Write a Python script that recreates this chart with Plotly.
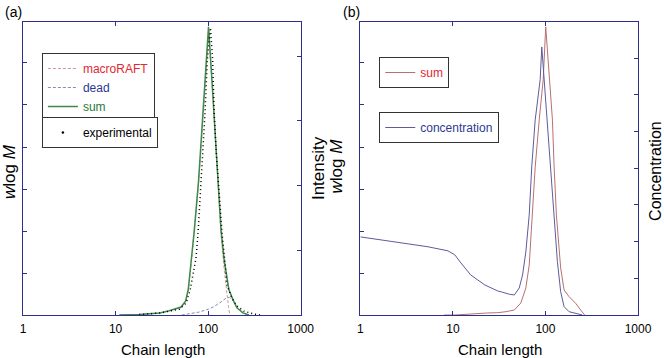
import plotly.graph_objects as go

# ---------------- Panel (a) data ----------------
a_sum_x = [11, 18, 30, 38, 51, 57, 61, 66, 71, 79, 86, 93, 101, 110, 119, 128, 138, 149, 168, 186, 205, 238, 276]
a_sum_y = [0.0, 0.01, 0.05, 0.1, 0.19, 0.33, 0.6, 1.31, 2.02, 3.21, 4.4, 5.6, 6.86, 5.6, 4.4, 3.21, 2.02, 1.31, 0.6, 0.36, 0.17, 0.05, 0.0]

a_raft_x = [11, 18, 30, 38, 51, 57, 61, 66, 71, 79, 86, 93, 101, 110, 119, 128, 138, 149, 160, 166, 172]
a_raft_y = [0.0, 0.01, 0.05, 0.1, 0.17, 0.3, 0.56, 1.26, 1.96, 3.14, 4.32, 5.5, 6.74, 5.55, 4.33, 3.12, 1.9, 1.1, 0.45, 0.2, 0.0]

a_dead_x = [52, 65, 80, 101, 116, 138, 156, 170, 186, 205, 238, 276]
a_dead_y = [0.0, 0.03, 0.07, 0.14, 0.2, 0.31, 0.4, 0.42, 0.36, 0.17, 0.05, 0.0]

a_exp_x = [18, 30, 49, 58, 64, 69, 74, 78, 83, 88, 93, 98, 106, 112, 116, 122, 130, 142, 152, 160, 181, 205, 244, 313, 372]
a_exp_y = [0.008, 0.03, 0.09, 0.185, 0.386, 0.618, 0.88, 1.28, 1.93, 2.55, 3.17, 3.94, 4.44, 3.94, 3.17, 2.55, 1.93, 1.24, 0.82, 0.46, 0.26, 0.14, 0.06, 0.015, 0.0]

# ---------------- Panel (b) data ----------------
b_sum_x = [8, 10.5, 23.8, 30.5, 37.4, 46.1, 54.2, 61.4, 66.8, 72.5, 77.5, 85.6, 94.5, 100.7, 109.6, 119, 124, 131.3, 146, 159, 180, 212, 240, 265]
b_sum_y = [0.0, 0.0, 0.048, 0.055, 0.079, 0.119, 0.286, 0.643, 1.19, 2.38, 3.52, 4.64, 5.6, 6.86, 5.6, 4.64, 3.55, 2.38, 1.12, 0.595, 0.436, 0.279, 0.119, 0.0]

b_conc_x = [1, 2.38, 5.39, 8.84, 10.5, 12.2, 15.6, 22.1, 30.5, 34.5, 40.7, 46.1, 52.1, 56.6, 61.4, 66.8, 71.2, 77.5, 87.7, 91.3, 96.8, 105.1, 114.6, 124, 134.6, 146, 159, 180, 221, 250]
b_conc_y = [2.13, 2.0, 1.86, 1.75, 1.64, 1.42, 1.09, 0.82, 0.655, 0.62, 0.565, 0.546, 0.737, 1.09, 1.72, 2.73, 4.07, 5.32, 6.42, 7.31, 6.42, 5.32, 4.07, 2.73, 1.455, 0.636, 0.227, 0.09, 0.027, 0.0]

x_tick_vals = [1, 10, 100, 1000]
x_tick_text = ["1", "10", "100", "1000"]

AX = "#2e2f8a"
FONT = "Liberation Sans, Arial, Helvetica, sans-serif"
RED_T = "#e3262f"
BLUE_T = "#2b3a90"
GREEN_T = "#1f7a3a"

fig = go.Figure()

# Panel (a)
fig.add_trace(go.Scatter(x=a_raft_x, y=a_raft_y, mode="lines", xaxis="x", yaxis="y",
                         line=dict(color="#c99a9a", width=1, dash="3px,2px"),
                         name=f"<span style='color:{RED_T}'>macroRAFT</span>", legend="legend"))
fig.add_trace(go.Scatter(x=a_dead_x, y=a_dead_y, mode="lines", xaxis="x", yaxis="y",
                         line=dict(color="#8a8ab8", width=1, dash="3px,2px"),
                         name=f"<span style='color:{BLUE_T}'>dead</span>", legend="legend"))
fig.add_trace(go.Scatter(x=a_sum_x, y=a_sum_y, mode="lines", xaxis="x", yaxis="y",
                         line=dict(color="#3f8a4a", width=1.5),
                         name=f"<span style='color:{GREEN_T}'>sum</span>", legend="legend"))
fig.add_trace(go.Scatter(x=a_exp_x, y=a_exp_y, mode="lines", xaxis="x", yaxis="y2",
                         line=dict(color="black", width=1.5, dash="1px,3px"),
                         showlegend=False, name="experimental"))
fig.add_trace(go.Scatter(x=[None], y=[None], mode="markers", xaxis="x", yaxis="y2",
                         marker=dict(color="black", size=2.5),
                         name="experimental", legend="legend2"))

# Panel (b)
fig.add_trace(go.Scatter(x=b_sum_x, y=b_sum_y, mode="lines", xaxis="x2", yaxis="y3",
                         line=dict(color="#b87070", width=1),
                         name=f"<span style='color:{RED_T}'>sum</span>", legend="legend3"))
fig.add_trace(go.Scatter(x=b_conc_x, y=b_conc_y, mode="lines", xaxis="x2", yaxis="y4",
                         line=dict(color="#5c5c9c", width=1),
                         name=f"<span style='color:{BLUE_T}'>concentration</span>", legend="legend4"))

xcommon = dict(type="log", range=[0, 3], tickvals=x_tick_vals, ticktext=x_tick_text,
               ticks="inside", ticklen=4, tickcolor=AX, showline=True, linecolor=AX, linewidth=1,
               mirror="ticks", showgrid=False, zeroline=False, ticklabelstandoff=3,
               tickfont=dict(size=12, color="black", family=FONT))
yleft = dict(ticks="inside", ticklen=4, tickcolor=AX, showline=True, linecolor=AX, linewidth=1,
             mirror=True, showgrid=False, zeroline=False, showticklabels=False,
             tick0=0, dtick=1, range=[0, 6.976])
yright = dict(ticks="inside", ticklen=4, tickcolor=AX, showline=True, linecolor=AX, linewidth=1,
              side="right", showgrid=False, zeroline=False, showticklabels=False, tick0=0, dtick=1)

leg = dict(bgcolor="white", bordercolor="#333333", borderwidth=1, xanchor="left", yanchor="top",
           font=dict(size=12, color="black", family=FONT), tracegroupgap=0, itemwidth=30)

fig.update_layout(
    width=664, height=358,
    margin=dict(l=23, r=23, t=22, b=43),
    paper_bgcolor="white", plot_bgcolor="white",
    font=dict(family=FONT, size=12, color="black"),
    xaxis=dict(domain=[0, 0.45146], anchor="y", **xcommon),
    yaxis=dict(anchor="x", **yleft),
    yaxis2=dict(anchor="x", overlaying="y", range=[0, 4.53], **yright),
    xaxis2=dict(domain=[0.54854, 1], anchor="y3", **xcommon),
    yaxis3=dict(anchor="x2", **yleft),
    yaxis4=dict(anchor="x2", overlaying="y3", range=[0, 7.99], **yright),
    legend=dict(x=0.0307, y=(315 - 53) / 293.0, **leg),
    legend2=dict(x=0.0307, y=(315 - 117) / 293.0, **leg),
    legend3=dict(x=0.5793, y=(315 - 57) / 293.0, **leg),
    legend4=dict(x=0.5793, y=(315 - 112) / 293.0, **leg),
    showlegend=True,
)

def px2x(px):
    return (px - 23) / 618.0

def py2y(py):
    return (315 - py) / 293.0

ann = [
    dict(text="(a)", x=px2x(3), y=py2y(12), xanchor="left", yanchor="middle", font=dict(size=14)),
    dict(text="(b)", x=px2x(343), y=py2y(12), xanchor="left", yanchor="middle", font=dict(size=14)),
    dict(text="Chain length", x=px2x(164), y=py2y(349), xanchor="center", yanchor="middle", font=dict(size=15)),
    dict(text="Chain length", x=px2x(502), y=py2y(349), xanchor="center", yanchor="middle", font=dict(size=15)),
    dict(text="<i>w</i>log <i>M</i>", x=px2x(9), y=py2y(172), textangle=-90, xanchor="center", yanchor="middle", font=dict(size=17)),
    dict(text="Intensity", x=px2x(320), y=py2y(168.5), textangle=-90, xanchor="center", yanchor="middle", font=dict(size=17)),
    dict(text="<i>w</i>log <i>M</i>", x=px2x(338), y=py2y(166), textangle=-90, xanchor="center", yanchor="middle", font=dict(size=17)),
    dict(text="Concentration", x=px2x(658), y=py2y(171), textangle=-90, xanchor="center", yanchor="middle", font=dict(size=16)),
]
for a in ann:
    a.update(xref="paper", yref="paper", showarrow=False)
    a["font"] = dict(family=FONT, color="black", **a["font"])
fig.update_layout(annotations=ann)

fig.write_html("out.html", config={"displayModeBar": False},
               post_script="document.body.style.margin='0';document.body.style.padding='0';")
